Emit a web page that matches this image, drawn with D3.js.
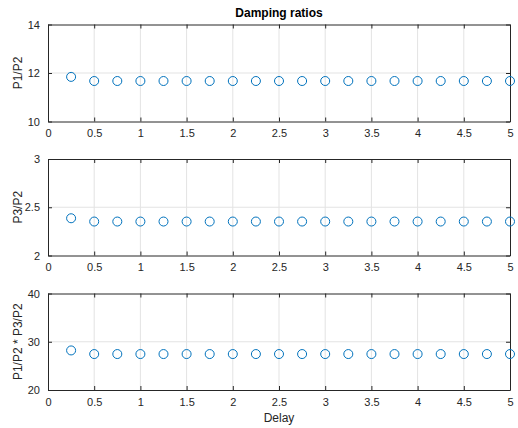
<!DOCTYPE html>
<html>
<head>
<meta charset="utf-8">
<script src="https://cdn.jsdelivr.net/npm/d3@7"></script>
<style>
  body { margin: 0; background: #fff; }
  svg { display: block; font-family: Arial, "Liberation Sans", Helvetica, sans-serif; }
</style>
</head>
<body>
<div id="chart"></div>
<script>
// values
const delays = [0.25, 0.5, 0.75, 1, 1.25, 1.5, 1.75, 2, 2.25, 2.5, 2.75, 3, 3.25, 3.5, 3.75, 4, 4.25, 4.5, 4.75, 5];
const p1p2 = [11.84, 11.67, 11.67, 11.67, 11.67, 11.67, 11.67, 11.67, 11.67, 11.67, 11.67, 11.67, 11.67, 11.67, 11.67, 11.67, 11.67, 11.67, 11.67, 11.67];
const p3p2 = [2.386, 2.352, 2.352, 2.352, 2.352, 2.352, 2.352, 2.352, 2.352, 2.352, 2.352, 2.352, 2.352, 2.352, 2.352, 2.352, 2.352, 2.352, 2.352, 2.352];
const product = [28.2, 27.45, 27.45, 27.45, 27.45, 27.45, 27.45, 27.45, 27.45, 27.45, 27.45, 27.45, 27.45, 27.45, 27.45, 27.45, 27.45, 27.45, 27.45, 27.45];
const xTicks = [0, 0.5, 1, 1.5, 2, 2.5, 3, 3.5, 4, 4.5, 5];

const panels = [
    { label: 'P1/P2', values: p1p2, domain: [10, 14], ticks: [10, 12, 14], top: 24.5, bottom: 121.5 },
    { label: 'P3/P2', values: p3p2, domain: [2, 3], ticks: [2, 2.5, 3], top: 159, bottom: 255.5 },
    { label: 'P1/P2 * P3/P2', values: product, domain: [20, 40], ticks: [20, 30, 40], top: 293.5, bottom: 390 }
];

const width = 518, height = 428;
const left = 48, right = 510;
const axisColor = '#262626';
const gridColor = '#e3e3e3';
const markerColor = '#0072BD';

const svg = d3.select('#chart').append('svg')
    .attr('width', width)
    .attr('height', height);

const x = d3.scaleLinear().domain([0, 5]).range([left, right]);

panels.forEach((p, i) => {
    const y = d3.scaleLinear().domain(p.domain).range([p.bottom, p.top]);
    const g = svg.append('g');

    // grid
    g.selectAll('line.gx')
        .data(xTicks.slice(1, -1))
        .join('line')
        .attr('x1', d => x(d)).attr('x2', d => x(d))
        .attr('y1', p.top).attr('y2', p.bottom)
        .attr('stroke', gridColor).attr('stroke-width', 1);
    g.selectAll('line.gy')
        .data(p.ticks.slice(1, -1))
        .join('line')
        .attr('x1', left).attr('x2', right)
        .attr('y1', d => y(d)).attr('y2', d => y(d))
        .attr('stroke', gridColor).attr('stroke-width', 1);

    // axes, ticks pointing inward like matlab
    const xb = d3.axisBottom(x).tickValues(xTicks).tickSizeInner(-4).tickSizeOuter(0).tickPadding(8).tickFormat(d3.format('~g'));
    const xt = d3.axisTop(x).tickValues(xTicks).tickSizeInner(-4).tickSizeOuter(0).tickFormat('');
    const yl = d3.axisLeft(y).tickValues(p.ticks).tickSizeInner(-4).tickSizeOuter(0).tickPadding(8).tickFormat(d3.format('~g'));
    const yr = d3.axisRight(y).tickValues(p.ticks).tickSizeInner(-4).tickSizeOuter(0).tickFormat('');

    [
        [xb, `translate(0,${p.bottom})`],
        [xt, `translate(0,${p.top})`],
        [yl, `translate(${left},0)`],
        [yr, `translate(${right},0)`]
    ].forEach(([ax, tr]) => {
        const a = g.append('g').attr('transform', tr).call(ax);
        a.select('.domain').attr('stroke', axisColor);
        a.selectAll('.tick line').attr('stroke', axisColor);
        a.selectAll('.tick text').attr('fill', axisColor).style('font-size', '11px');
    });

    // y label
    g.append('text')
        .attr('transform', `translate(22,${(p.top + p.bottom) / 2}) rotate(-90)`)
        .attr('text-anchor', 'middle')
        .attr('fill', axisColor)
        .style('font-size', '12px')
        .text(p.label);

    // markers
    g.selectAll('circle')
        .data(delays.map((d, k) => [d, p.values[k]]))
        .join('circle')
        .attr('cx', d => x(d[0]))
        .attr('cy', d => y(d[1]))
        .attr('r', 4.5)
        .attr('fill', 'none')
        .attr('stroke', markerColor)
        .attr('stroke-width', 1);
});

svg.append('text')
    .attr('x', (left + right) / 2)
    .attr('y', 17)
    .attr('text-anchor', 'middle')
    .attr('fill', '#000')
    .style('font-size', '12px')
    .style('font-weight', 'bold')
    .text('Damping ratios');

svg.append('text')
    .attr('x', (left + right) / 2)
    .attr('y', 422)
    .attr('text-anchor', 'middle')
    .attr('fill', axisColor)
    .style('font-size', '12px')
    .text('Delay');
</script>
</body>
</html>
